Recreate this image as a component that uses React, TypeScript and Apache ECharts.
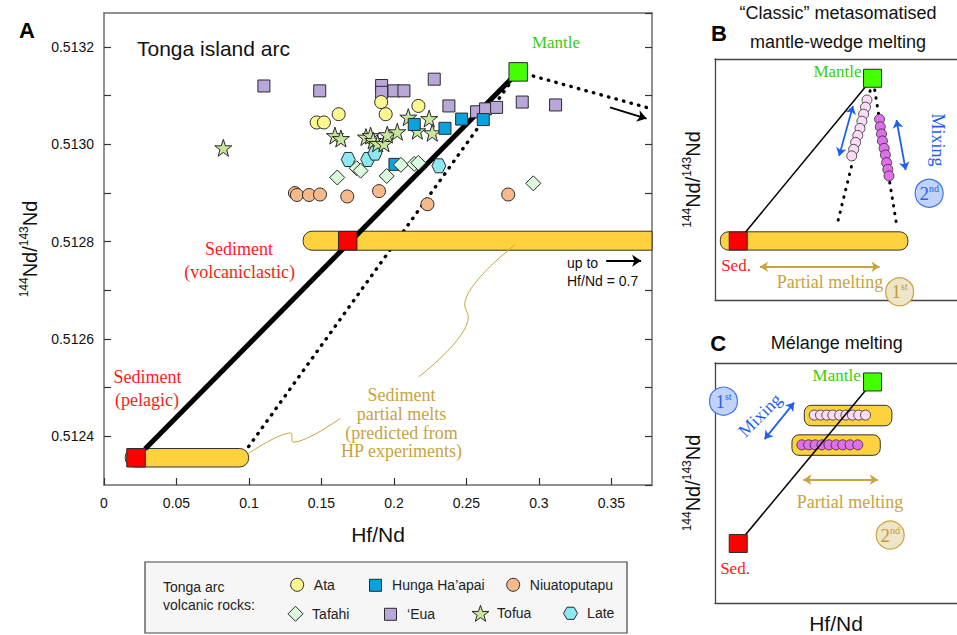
import React, { useEffect, useRef } from "react";
import * as echarts from "echarts";

const SANS = '"Liberation Sans", Arial, Helvetica, sans-serif';
const SERIF = '"Liberation Serif", "Times New Roman", serif';

// ---------- Panel A: axes ----------
const xMinA = 0;
const xMaxA = 0.378;
const xStepA = 0.05;
const yMinA = 0.5123;
const yMaxA = 0.51327;
const yStepA = 0.0001;

// ---------- Panel A: Tonga arc volcanic rocks [Hf/Nd, 143Nd/144Nd] ----------
const ataData = [[0.1912, 0.513087], [0.1619, 0.513062], [0.1943, 0.513062], [0.2169, 0.513079], [0.1467, 0.513045], [0.1517, 0.513045]];
const hungaData = [[0.214, 0.513041], [0.2352, 0.513033], [0.2467, 0.513052], [0.2616, 0.513051], [0.2007, 0.512959]];
const niuaData = [[0.1317, 0.5129], [0.1331, 0.512896], [0.1414, 0.512896], [0.149, 0.512897], [0.1678, 0.512893], [0.1897, 0.512904], [0.2231, 0.512877], [0.2788, 0.512897]];
const tafahiData = [[0.1609, 0.512932], [0.1743, 0.512951], [0.177, 0.512946], [0.195, 0.512935], [0.2048, 0.512958], [0.214, 0.51296], [0.2168, 0.512962], [0.2961, 0.51292]];
const euaData = [[0.1103, 0.51312], [0.1488, 0.51311], [0.1915, 0.513121], [0.1915, 0.513107], [0.2, 0.51311], [0.2069, 0.51311], [0.2278, 0.513134], [0.2379, 0.513079], [0.257, 0.513067], [0.2632, 0.513073], [0.2708, 0.513076], [0.2885, 0.513087], [0.3115, 0.513081]];
const tofuaData = [[0.0823, 0.512993], [0.1593, 0.513018], [0.1634, 0.513012], [0.1807, 0.513015], [0.1839, 0.513018], [0.1857, 0.513008], [0.1888, 0.513002], [0.1931, 0.513002], [0.1954, 0.51302], [0.2023, 0.513026], [0.2099, 0.513056], [0.2161, 0.513028], [0.2243, 0.513053], [0.2264, 0.513024]];
const lateData = [[0.1685, 0.512969], [0.1819, 0.512969], [0.1869, 0.512982], [0.231, 0.512956]];

// ---------- Panel A: end-members and model lines ----------
const mantleA = [[0.2857, 0.513149]];
const sedimentA = [[0.0221, 0.512356], [0.1681, 0.512802]];
const pelagicBarA = [[0.0146, 0.0998, 0.512356]];
const volcBarA = [[0.1373, 0.7, 0.512802]];
const bulkMixLineA = [[0.0283, 0.512374], [0.2857, 0.513149]];
const meltMixLineA = [[0.0998, 0.512379], [0.2857, 0.513149]];
const mantleTrendA = [[0.2857, 0.513149], [0.3777, 0.513073]];
const trendArrowA = [[0.349, 0.513076], [0.3742, 0.513053]];
const upToArrowA = [[0.3464, 0.512761], [0.3705, 0.512761]];
const pelagicLeaderA = [[0.0998, 0.512365], [0.1288, 0.512407], [0.1305, 0.512388], [0.1631, 0.512437]];
const volcLeaderA = [[0.2833, 0.512793], [0.2488, 0.51267], [0.2513, 0.512645], [0.217, 0.512522]];

// ---------- Panel B (schematic, unit axes) ----------
const bMantle = [[0.651, 0.92]];
const bSed = [[0.096, 0.245]];
const bBar = [[0.022, 0.797, 0.245]];
const bMixLine = [[0.096, 0.245], [0.651, 0.92]];
const bLightMelt = [[0.628, 0.83], [0.622, 0.8], [0.614, 0.771], [0.607, 0.742], [0.599, 0.712], [0.59, 0.683], [0.581, 0.654], [0.573, 0.625], [0.565, 0.598]];
const bDarkMelt = [[0.68, 0.75], [0.683, 0.719], [0.688, 0.689], [0.692, 0.66], [0.699, 0.629], [0.704, 0.602], [0.709, 0.57], [0.714, 0.542], [0.719, 0.515]];
const bDotLeft = [[0.641, 0.868], [0.504, 0.311]];
const bDotRight = [[0.66, 0.871], [0.75, 0.315]];
const bMixArrows = [[[0.57, 0.805], [0.513, 0.598]], [[0.75, 0.747], [0.788, 0.539]]];
const bMeltArrow = [[0.186, 0.138], [0.68, 0.138]];
const bStepMix = [[0.885, 0.443]];
const bStepMelt = [[0.763, 0.034]];

// ---------- Panel C (schematic, unit axes) ----------
const cMantle = [[0.651, 0.921]];
const cSed = [[0.096, 0.248]];
const cMixLine = [[0.096, 0.248], [0.651, 0.921]];
const cUpperBar = [[0.369, 0.731, 0.781]];
const cLowerBar = [[0.318, 0.683, 0.658]];
const cLightMeltX = [0.41, 0.436, 0.462, 0.487, 0.515, 0.541, 0.568, 0.594, 0.622];
const cLightMeltY = 0.783;
const cDarkMeltX = [0.359, 0.387, 0.414, 0.442, 0.471, 0.5, 0.528, 0.558, 0.59];
const cDarkMeltY = 0.659;
const cMixArrow = [[0.327, 0.835], [0.205, 0.683]];
const cMeltArrow = [[0.365, 0.514], [0.673, 0.514]];
const cStepMix = [[0.035, 0.841]];
const cStepMelt = [[0.724, 0.283]];

const STAR = "path://M50,0 L61.8,35.1 L98.1,34.5 L69,56.3 L79.4,90.5 L50,70 L20.6,90.5 L31,56.3 L1.9,34.5 L38.2,35.1 Z";
const HEX = "path://M0,50 L25,6.7 L75,6.7 L100,50 L75,93.3 L25,93.3 Z";

const YELLOW = "#fdd23e";
const GOLD = "#c9a33d";
const BLUE = "#1f5ff0";
const RED = "#ff1a1a";
const GREEN_TXT = "#3acc10";

const C_ATA = "#fdf78f";
const C_HUNGA = "#0aa2dc";
const C_NIUA = "#f6b98c";
const C_TAFAHI = "#dcfadc";
const C_EUA = "#b9a7d9";
const C_TOFUA = "#c8e59c";
const C_LATE = "#8ee8f2";

function barRenderer(h: number, rl: number, rr: number) {
  return (params: any, api: any) => {
    const x0 = api.value(0);
    const x1 = api.value(1);
    const y = api.value(2);
    const p0 = api.coord([x0, y]);
    const p1 = api.coord([x1, y]);
    const cs = params.coordSys;
    const right = Math.min(p1[0], cs.x + cs.width);
    const clipped = p1[0] > cs.x + cs.width;
    return {
      type: "rect",
      shape: { x: p0[0], y: p0[1] - h / 2, width: right - p0[0], height: h, r: [rl, clipped ? 0 : rr, clipped ? 0 : rr, rl] },
      style: { fill: YELLOW, stroke: "#333", lineWidth: 1 },
    };
  };
}

function txt(text: string, x: number, y: number, font: string, fill: string, align = "center", rotation = 0) {
  return {
    type: "text",
    x,
    y,
    rotation,
    z: 50,
    style: { text, font, fill, textAlign: align, textVerticalAlign: "middle", align, verticalAlign: "middle" },
  };
}

const nameRich = {
  m: { fontSize: 20, lineHeight: 24, fontFamily: SANS, color: "#111" },
  s: { fontSize: 12, lineHeight: 14, fontFamily: SANS, color: "#111", verticalAlign: "top" },
};
const NDNAME = "{s|144}{m|Nd/}{s|143}{m|Nd}";

function solidScatter(data: number[][], xi: number, yi: number, symbol: string, size: number, color: string, z: number, borderWidth = 1) {
  return {
    type: "scatter",
    xAxisIndex: xi,
    yAxisIndex: yi,
    data,
    symbol,
    symbolSize: size,
    z,
    itemStyle: { color, borderColor: "#2a2a2a", borderWidth, opacity: 1 },
    emphasis: { disabled: true },
    silent: true,
  };
}

function badge(data: number[][], xi: number, yi: number, label: string, sup: string, fill: string, stroke: string, color: string) {
  return {
    type: "scatter",
    xAxisIndex: xi,
    yAxisIndex: yi,
    data,
    symbol: "circle",
    symbolSize: 28,
    z: 20,
    itemStyle: { color: fill, borderColor: stroke, borderWidth: 1.2, opacity: 1 },
    label: {
      show: true,
      position: "inside",
      formatter: `{n|${label}}{s|${sup}}`,
      rich: {
        n: { fontSize: 19, lineHeight: 20, fontFamily: SERIF, color },
        s: { fontSize: 10, lineHeight: 11, fontFamily: SERIF, color, verticalAlign: "top" },
      },
    },
    silent: true,
  };
}

export default function App() {
  const ref = useRef<HTMLDivElement>(null);
  useEffect(() => {
    if (!ref.current) return;
    const chart = echarts.init(ref.current, undefined, { renderer: "svg" });
    const axisGray = "#6d6d6d";
    const frame = "#444";

    const yFmt = (v: number) => {
      const k = Math.round(v * 10000);
      if (Math.abs(v * 10000 - k) > 1e-6 || k % 2 !== 0) return "";
      return (k / 10000).toFixed(4);
    };
    const xFmt = (v: number) => {
      const k = Math.round(v * 100);
      if (Math.abs(v * 100 - k) > 1e-6 || k % 5 !== 0) return "";
      return String(k / 100);
    };

    const unitAxis = (pos: string, gridIndex: number, extra: any = {}) => ({
      type: "value",
      gridIndex,
      position: pos,
      min: 0,
      max: 1,
      axisLine: { show: true, onZero: false, lineStyle: { color: frame, width: 1.3 } },
      axisTick: { show: false },
      axisLabel: { show: false },
      splitLine: { show: false },
      ...extra,
    });

    const scatterA = (name: string, data: number[][], symbol: string, size: number, color: string) => ({
      name,
      type: "scatter",
      xAxisIndex: 0,
      yAxisIndex: 0,
      data,
      symbol,
      symbolSize: size,
      z: 10,
      itemStyle: { color, borderColor: "#2a2a2a", borderWidth: 1, opacity: 1 },
    });

    const dotted = { type: [0.5, 7.3], cap: "round", width: 3.4, color: "#000" };

    const legendItems = [
      { name: "Ata", cx: 296.7, cy: 584.3, s: 13, c: C_ATA },
      { name: "Hunga Ha\u2019apai", cx: 375, cy: 584.3, s: 12, c: C_HUNGA },
      { name: "Niuatoputapu", cx: 512.7, cy: 584.3, s: 13, c: C_NIUA },
      { name: "Tafahi", cx: 295, cy: 613.3, s: 15, c: C_TAFAHI },
      { name: "\u2018Eua", cx: 390, cy: 613.3, s: 12, c: C_EUA },
      { name: "Tofua", cx: 480, cy: 613.3, s: 17, c: C_TOFUA },
      { name: "Late", cx: 570, cy: 613.3, s: 14, c: C_LATE },
    ];

    const option: any = {
      animation: false,
      backgroundColor: "#fff",
      textStyle: { fontFamily: SANS },
      grid: [
        { left: 104, top: 13, width: 548, height: 472 },
        { left: 715, top: 59, width: 262, height: 241 },
        { left: 715, top: 363, width: 262, height: 242 },
      ],
      xAxis: [
        {
          type: "value",
          gridIndex: 0,
          min: xMinA,
          max: xMaxA,
          interval: xStepA,
          name: "Hf/Nd",
          nameLocation: "middle",
          nameGap: 39,
          nameTextStyle: { fontSize: 21, fontFamily: SANS, color: "#111" },
          axisLine: { show: true, onZero: false, lineStyle: { color: axisGray, width: 1.5 } },
          axisTick: { show: true, inside: true, length: 7, lineStyle: { color: "#333", width: 1.2 } },
          axisLabel: { formatter: xFmt, fontSize: 14, color: "#111", fontFamily: SANS, margin: 11, showMaxLabel: false },
          splitLine: { show: false },
        },
        {
          type: "value",
          gridIndex: 0,
          position: "top",
          min: xMinA,
          max: xMaxA,
          interval: xStepA,
          axisLine: { show: true, onZero: false, lineStyle: { color: axisGray, width: 1.5 } },
          axisTick: { show: false },
          axisLabel: { show: false },
          splitLine: { show: false },
        },
        unitAxis("bottom", 1),
        unitAxis("top", 1),
        unitAxis("bottom", 2, {
          name: "Hf/Nd",
          nameLocation: "middle",
          nameGap: 10,
          nameTextStyle: { fontSize: 21, fontFamily: SANS, color: "#111" },
        }),
        unitAxis("top", 2),
      ],
      yAxis: [
        {
          type: "value",
          gridIndex: 0,
          min: yMinA,
          max: yMaxA,
          interval: yStepA,
          name: NDNAME,
          nameLocation: "middle",
          nameGap: 57,
          nameTextStyle: { rich: nameRich },
          axisLine: { show: true, onZero: false, lineStyle: { color: axisGray, width: 1.5 } },
          axisTick: { show: true, inside: true, length: 7, lineStyle: { color: "#333", width: 1.2 } },
          axisLabel: { formatter: yFmt, fontSize: 14, color: "#111", fontFamily: SANS, margin: 10, showMaxLabel: false, showMinLabel: false },
          splitLine: { show: false },
        },
        {
          type: "value",
          gridIndex: 0,
          position: "right",
          min: yMinA,
          max: yMaxA,
          interval: yStepA,
          axisLine: { show: true, onZero: false, lineStyle: { color: axisGray, width: 1.5 } },
          axisTick: { show: true, inside: true, length: 7, lineStyle: { color: "#333", width: 1.2 } },
          axisLabel: { show: false },
          splitLine: { show: false },
        },
        unitAxis("left", 1, {
          name: NDNAME,
          nameLocation: "middle",
          nameGap: 10,
          nameTextStyle: { rich: nameRich },
        }),
        unitAxis("left", 2, {
          name: NDNAME,
          nameLocation: "middle",
          nameGap: 10,
          nameTextStyle: { rich: nameRich },
        }),
      ],
      legend: legendItems.map((it) => ({
        data: [it.name],
        left: it.cx - it.s / 2,
        top: it.cy - it.s / 2,
        padding: 0,
        itemWidth: it.s,
        itemHeight: it.s,
        selectedMode: false,
        itemStyle: { color: it.c, borderColor: "#2a2a2a", borderWidth: 1, opacity: 1 },
        textStyle: { fontSize: 14, color: "#222", fontFamily: SANS, padding: [0, 0, 0, 16.6 - it.s / 2 - 5] },
      })),
      series: [
        // ---- Panel A ----
        { type: "line", xAxisIndex: 0, yAxisIndex: 0, data: meltMixLineA, symbol: "none", lineStyle: dotted, z: 3, silent: true },
        { type: "line", xAxisIndex: 0, yAxisIndex: 0, data: mantleTrendA, symbol: "none", lineStyle: dotted, z: 3, silent: true },
        { type: "custom", xAxisIndex: 0, yAxisIndex: 0, data: pelagicBarA, encode: { x: [0, 1], y: 2 }, renderItem: barRenderer(18.5, 9, 9), z: 4, silent: true },
        { type: "custom", xAxisIndex: 0, yAxisIndex: 0, data: volcBarA, encode: { x: [0, 1], y: 2 }, renderItem: barRenderer(19, 9, 9), z: 4, silent: true },
        { type: "line", xAxisIndex: 0, yAxisIndex: 0, data: bulkMixLineA, symbol: "none", lineStyle: { color: "#000", width: 5 }, z: 5, silent: true },
        { type: "line", xAxisIndex: 0, yAxisIndex: 0, data: pelagicLeaderA, symbol: "none", smooth: 0.35, lineStyle: { color: GOLD, width: 1 }, z: 5, silent: true },
        { type: "line", xAxisIndex: 0, yAxisIndex: 0, data: volcLeaderA, symbol: "none", smooth: 0.35, lineStyle: { color: GOLD, width: 1 }, z: 5, silent: true },
        {
          type: "lines",
          coordinateSystem: "cartesian2d",
          xAxisIndex: 0,
          yAxisIndex: 0,
          data: [{ coords: trendArrowA }, { coords: upToArrowA }],
          symbol: ["none", "arrow"],
          symbolSize: 9,
          lineStyle: { color: "#000", width: 2, curveness: 0, opacity: 1 },
          z: 6,
          silent: true,
        },
        solidScatter(sedimentA, 0, 0, "rect", 18.5, "#ff0000", 7),
        solidScatter(mantleA, 0, 0, "rect", 18.5, "#44ff00", 7),
        scatterA("\u2018Eua", euaData, "rect", 12, C_EUA),
        scatterA("Ata", ataData, "circle", 13, C_ATA),
        scatterA("Niuatoputapu", niuaData, "circle", 13, C_NIUA),
        scatterA("Late", lateData, HEX, 14, C_LATE),
        scatterA("Tofua", tofuaData, STAR, 17, C_TOFUA),
        scatterA("Hunga Ha\u2019apai", hungaData, "rect", 12, C_HUNGA),
        scatterA("Tafahi", tafahiData, "diamond", 15, C_TAFAHI),

        // ---- Panel B ----
        { type: "custom", xAxisIndex: 2, yAxisIndex: 2, data: bBar, encode: { x: [0, 1], y: 2 }, renderItem: barRenderer(18.3, 8, 8), z: 3, silent: true },
        { type: "line", xAxisIndex: 2, yAxisIndex: 2, data: bDotLeft, symbol: "none", lineStyle: { ...dotted, width: 3 }, z: 4, silent: true },
        { type: "line", xAxisIndex: 2, yAxisIndex: 2, data: bDotRight, symbol: "none", lineStyle: { ...dotted, width: 3 }, z: 4, silent: true },
        { type: "line", xAxisIndex: 2, yAxisIndex: 2, data: bMixLine, symbol: "none", lineStyle: { color: "#000", width: 1.5 }, z: 5, silent: true },
        solidScatter(bLightMelt, 2, 2, "circle", 10, "#fadcf7", 6, 0.8),
        solidScatter(bDarkMelt, 2, 2, "circle", 10, "#e070ea", 6, 0.8),
        {
          type: "lines",
          coordinateSystem: "cartesian2d",
          xAxisIndex: 2,
          yAxisIndex: 2,
          data: bMixArrows.map((c) => ({ coords: c })),
          symbol: ["arrow", "arrow"],
          symbolSize: 8,
          lineStyle: { color: BLUE, width: 1.8, curveness: 0, opacity: 1 },
          z: 6,
          silent: true,
        },
        {
          type: "lines",
          coordinateSystem: "cartesian2d",
          xAxisIndex: 2,
          yAxisIndex: 2,
          data: [{ coords: bMeltArrow }],
          symbol: ["arrow", "arrow"],
          symbolSize: 8,
          lineStyle: { color: GOLD, width: 1.8, curveness: 0, opacity: 1 },
          z: 6,
          silent: true,
        },
        solidScatter(bSed, 2, 2, "rect", 18, "#ff0000", 7),
        solidScatter(bMantle, 2, 2, "rect", 18, "#44ff00", 7),
        badge(bStepMix, 2, 2, "2", "nd", "#c2d3fb", "#3f74ea", "#2a62e8"),
        badge(bStepMelt, 2, 2, "1", "st", "#efe6c9", "#c9a33d", "#c09a35"),

        // ---- Panel C ----
        { type: "custom", xAxisIndex: 4, yAxisIndex: 3, data: cUpperBar, encode: { x: [0, 1], y: 2 }, renderItem: barRenderer(20.5, 7, 7), z: 3, silent: true },
        { type: "custom", xAxisIndex: 4, yAxisIndex: 3, data: cLowerBar, encode: { x: [0, 1], y: 2 }, renderItem: barRenderer(20.5, 7, 7), z: 3, silent: true },
        solidScatter(cLightMeltX.map((x) => [x, cLightMeltY]), 4, 3, "circle", 10, "#fadcf7", 4, 0.8),
        solidScatter(cDarkMeltX.map((x) => [x, cDarkMeltY]), 4, 3, "circle", 10, "#e070ea", 4, 0.8),
        { type: "line", xAxisIndex: 4, yAxisIndex: 3, data: cMixLine, symbol: "none", lineStyle: { color: "#000", width: 1.5 }, z: 5, silent: true },
        {
          type: "lines",
          coordinateSystem: "cartesian2d",
          xAxisIndex: 4,
          yAxisIndex: 3,
          data: [{ coords: cMixArrow }],
          symbol: ["arrow", "arrow"],
          symbolSize: 8,
          lineStyle: { color: BLUE, width: 1.8, curveness: 0, opacity: 1 },
          z: 6,
          silent: true,
        },
        {
          type: "lines",
          coordinateSystem: "cartesian2d",
          xAxisIndex: 4,
          yAxisIndex: 3,
          data: [{ coords: cMeltArrow }],
          symbol: ["arrow", "arrow"],
          symbolSize: 8,
          lineStyle: { color: GOLD, width: 1.8, curveness: 0, opacity: 1 },
          z: 6,
          silent: true,
        },
        solidScatter(cSed, 4, 3, "rect", 18, "#ff0000", 7),
        solidScatter(cMantle, 4, 3, "rect", 18, "#44ff00", 7),
        badge(cStepMix, 4, 3, "1", "st", "#c2d3fb", "#3f74ea", "#2a62e8"),
        badge(cStepMelt, 4, 3, "2", "nd", "#efe6c9", "#c9a33d", "#c09a35"),
      ],
      graphic: [
        // legend box
        { type: "rect", shape: { x: 145, y: 562, width: 482, height: 71 }, style: { fill: "#f6f6f6", stroke: "#444", lineWidth: 1.2 }, z: -1 },
        txt("Tonga arc", 163, 586.7, `14px ${SANS}`, "#222", "left"),
        txt("volcanic rocks:", 163, 605, `14px ${SANS}`, "#222", "left"),
        // panel A
        txt("A", 27, 30, `bold 22px ${SANS}`, "#000"),
        txt("Tonga island arc", 137, 48, `21px ${SANS}`, "#111", "left"),
        txt("Mantle", 556, 42, `17px ${SERIF}`, GREEN_TXT),
        txt("Sediment", 239, 249, `18px ${SERIF}`, RED),
        txt("(volcaniclastic)", 239.6, 272, `18px ${SERIF}`, RED),
        txt("Sediment", 147.4, 377, `18px ${SERIF}`, RED),
        txt("(pelagic)", 147, 400, `18px ${SERIF}`, RED),
        txt("Sediment", 401.5, 395, `18px ${SERIF}`, GOLD),
        txt("partial melts", 401.5, 414, `18px ${SERIF}`, GOLD),
        txt("(predicted from", 401.5, 432.5, `18px ${SERIF}`, GOLD),
        txt("HP experiments)", 401.5, 451, `18px ${SERIF}`, GOLD),
        txt("up to", 567, 262.5, `14px ${SANS}`, "#111", "left"),
        txt("Hf/Nd = 0.7", 567, 280.5, `14px ${SANS}`, "#111", "left"),
        // panel B
        txt("B", 719, 33, `bold 22px ${SANS}`, "#000"),
        txt("\u201CClassic\u201D metasomatised", 838, 13, `18px ${SANS}`, "#111"),
        txt("mantle-wedge melting", 838, 41.7, `18px ${SANS}`, "#111"),
        txt("Mantle", 837.5, 71.7, `17px ${SERIF}`, GREEN_TXT),
        txt("Sed.", 736, 265, `17px ${SERIF}`, RED),
        txt("Partial melting", 830, 281.7, `18px ${SERIF}`, GOLD),
        txt("Mixing", 938.3, 140, `18px ${SERIF}`, BLUE, "center", -Math.PI / 2),
        // panel C
        txt("C", 718.3, 343.3, `bold 22px ${SANS}`, "#000"),
        txt("M\u00E9lange melting", 836.7, 343.3, `18px ${SANS}`, "#111"),
        txt("Mantle", 836.7, 375, `17px ${SERIF}`, GREEN_TXT),
        txt("Sed.", 735, 568.3, `17px ${SERIF}`, RED),
        txt("Partial melting", 850, 501.7, `18px ${SERIF}`, GOLD),
        txt("Mixing", 760, 415, `18px ${SERIF}`, BLUE, "center", Math.PI / 4),
      ],
    };

    chart.setOption(option);
    return () => chart.dispose();
  }, []);

  return (
    <div
      ref={ref}
      style={{ position: "fixed", left: 0, top: 0, width: 957, height: 635, background: "#fff" }}
    />
  );
}
